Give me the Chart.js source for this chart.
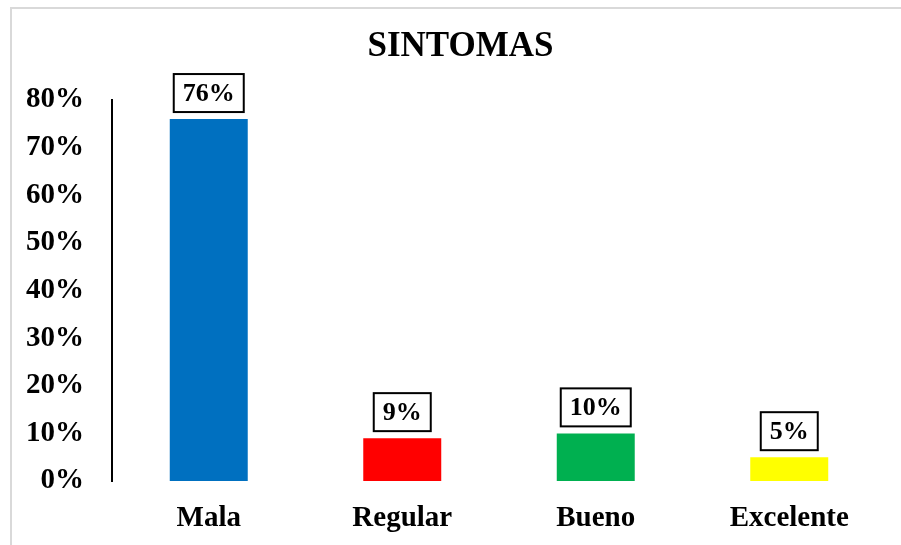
<!DOCTYPE html>
<html>
<head>
<meta charset="utf-8">
<script src="https://cdn.jsdelivr.net/npm/chart.js@4"></script>
<style>
  html, body { margin: 0; padding: 0; background: #fff; overflow: hidden; }
  .marco { position: absolute; left: 10px; top: 7px; width: 2000px; height: 2000px; border: 2px solid #d9d9d9; }
  #graficoSintomas { position: absolute; left: 0; top: 0; }
</style>
</head>
<body>
<div class="marco"></div>
<canvas id="graficoSintomas" width="901" height="545"></canvas>
<script>
const categorias = ['Mala', 'Regular', 'Bueno', 'Excelente'];
const porcentajes = [76, 9, 10, 5];
const colores = ['#0070C0', '#FF0000', '#00B050', '#FFFF00'];
const ticksY = [0, 10, 20, 30, 40, 50, 60, 70, 80];

const fuente = "'Liberation Serif', 'Times New Roman', serif";

// etiquetas con recuadro encima de cada barra
const etiquetasCaja = {
    id: 'etiquetasCaja',
    afterLayout(chart) {
        // el titulo del original queda algo a la derecha
        if (chart.titleBlock) chart.titleBlock.left += 11;
    },
    afterDatasetsDraw(chart) {
        const ctx = chart.ctx;
        const meta = chart.getDatasetMeta(0);
        ctx.save();
        ctx.font = 'bold 26px ' + fuente;
        ctx.textAlign = 'center';
        ctx.textBaseline = 'middle';
        meta.data.forEach((bar, i) => {
            const texto = porcentajes[i] + '%';
            const w = ctx.measureText(texto).width + 18;
            const h = 38;
            const abajo = bar.y - 7;
            ctx.fillStyle = '#fff';
            ctx.fillRect(bar.x - w / 2, abajo - h, w, h);
            ctx.lineWidth = 2;
            ctx.strokeStyle = '#000';
            ctx.strokeRect(bar.x - w / 2, abajo - h, w, h);
            ctx.fillStyle = '#000';
            ctx.fillText(texto, bar.x, abajo - h / 2 + 1);
        });
        ctx.restore();
    }
};

const ctx = document.getElementById('graficoSintomas').getContext('2d');
const grafico = new Chart(ctx, {
    type: 'bar',
    data: {
        labels: categorias,
        datasets: [{
            data: porcentajes,
            backgroundColor: colores,
            borderWidth: 0,
            categoryPercentage: 1,
            barPercentage: 0.403
        }]
    },
    options: {
        responsive: false,
        animation: false,
        layout: {
            padding: { left: 24, right: 15, top: 0, bottom: 0 }
        },
        plugins: {
            legend: { display: false },
            tooltip: { enabled: false },
            title: {
                display: true,
                text: 'SINTOMAS',
                color: '#000',
                font: { family: fuente, size: 35, weight: 'bold' },
                padding: { top: 26, bottom: 32 }
            }
        },
        scales: {
            y: {
                min: 0,
                max: 80,
                afterBuildTicks: (escala) => {
                    escala.ticks = ticksY.map(v => ({ value: v }));
                },
                afterFit: (escala) => {
                    escala.width = 88;
                },
                grid: { display: false, drawTicks: false },
                border: { display: true, color: '#000', width: 2 },
                ticks: {
                    padding: 28,
                    color: '#000',
                    font: { family: fuente, size: 29, weight: 'bold' },
                    callback: (v) => v + '%'
                }
            },
            x: {
                afterFit: (escala) => {
                    escala.height = 64;
                },
                grid: { display: false, drawTicks: false },
                border: { display: false },
                ticks: {
                    padding: 20,
                    color: '#000',
                    font: { family: fuente, size: 29, weight: 'bold' }
                }
            }
        }
    },
    plugins: [etiquetasCaja]
});
</script>
</body>
</html>
